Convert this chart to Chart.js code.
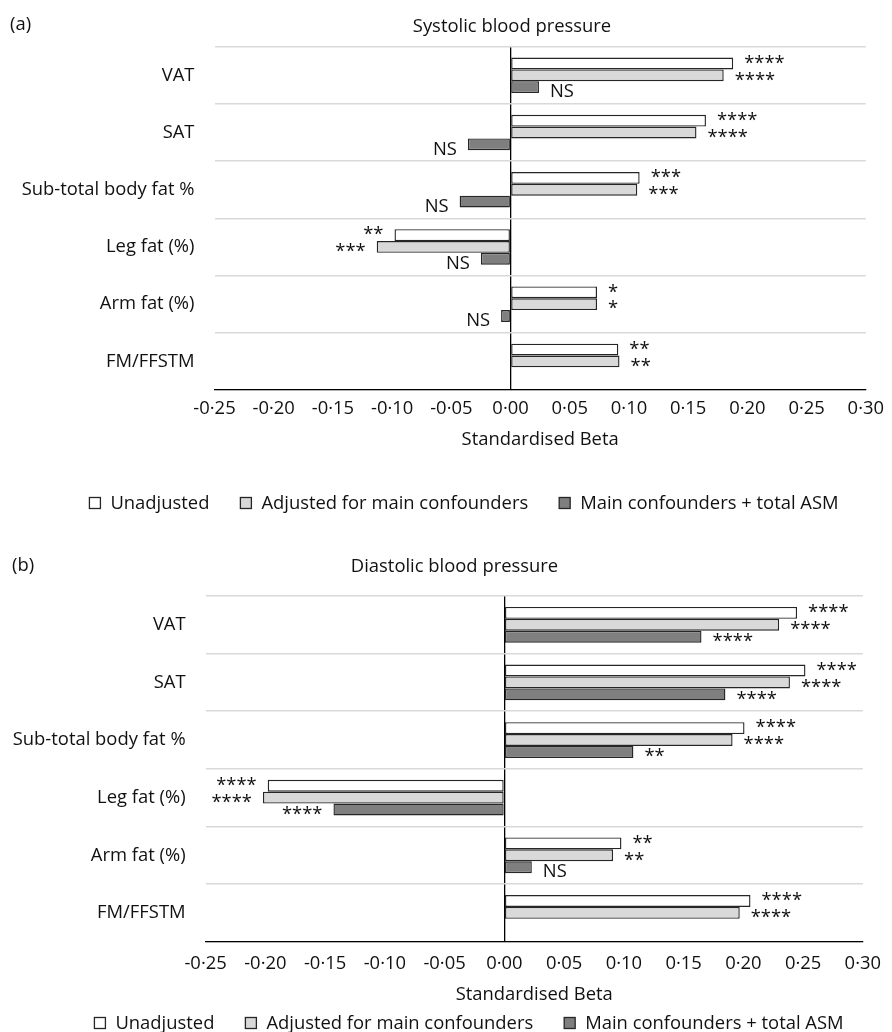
<!DOCTYPE html>
<html>
<head>
<meta charset="utf-8">
<title>Body fat and blood pressure</title>
<script src="https://cdn.jsdelivr.net/npm/chart.js@4.4.1/dist/chart.umd.min.js"></script>
<style>
  html, body { margin: 0; padding: 0; background: #fff; }
  .panel { position: relative; width: 892px; }
  #panelA { height: 540px; }
  #panelB { height: 492px; }
</style>
</head>
<body>
<div class="panel" id="panelA"><canvas id="chartA"></canvas></div>
<div class="panel" id="panelB"><canvas id="chartB"></canvas></div>
<script>
// ---- data ----
const categories = ["VAT", "SAT", "Sub-total body fat %", "Leg fat (%)", "Arm fat (%)", "FM/FFSTM"];
const seriesNames = ["Unadjusted", "Adjusted for main confounders", "Main confounders + total ASM"];
const xTickValues = [-0.25, -0.20, -0.15, -0.10, -0.05, 0.00, 0.05, 0.10, 0.15, 0.20, 0.25, 0.30];

const sysUnadjusted = [0.188, 0.165, 0.109, -0.098, 0.073, 0.091];
const sysAdjusted = [0.180, 0.157, 0.107, -0.113, 0.073, 0.092];
const sysAsm = [0.024, -0.036, -0.043, -0.025, -0.008, null];
const sysSigUnadjusted = ["****", "****", "***", "**", "*", "**"];
const sysSigAdjusted = ["****", "****", "***", "***", "*", "**"];
const sysSigAsm = ["NS", "NS", "NS", "NS", "NS", ""];

const diaUnadjusted = [0.245, 0.252, 0.201, -0.198, 0.098, 0.206];
const diaAdjusted = [0.230, 0.239, 0.191, -0.202, 0.091, 0.197];
const diaAsm = [0.165, 0.185, 0.108, -0.143, 0.023, null];
const diaSigUnadjusted = ["****", "****", "****", "****", "**", "****"];
const diaSigAdjusted = ["****", "****", "****", "****", "**", "****"];
const diaSigAsm = ["****", "****", "**", "****", "NS", ""];

// ---- styles ----
const fills = ["#ffffff", "#d9d9d9", "#7f7f7f"];
const edge = "#262626";
const ink = "#111111";
const fontSize = 18.4;
const fontStr = fontSize + "px 'Open Sans', sans-serif";

Chart.defaults.font.family = "'Open Sans', sans-serif";
Chart.defaults.font.size = fontSize;
Chart.defaults.color = ink;

function fmtBeta(v) {
  const n = Math.abs(v) < 1e-9 ? 0 : v;
  return n.toFixed(2).replace(".", "\u00b7");
}

// significance text next to each bar end
const sigLabels = {
  id: "sigLabels",
  afterDatasetsDraw(chart, args, opts) {
    const ctx = chart.ctx;
    ctx.save();
    ctx.font = fontStr;
    ctx.fillStyle = ink;
    ctx.textBaseline = "middle";
    chart.data.datasets.forEach((ds, i) => {
      const meta = chart.getDatasetMeta(i);
      meta.data.forEach((bar, j) => {
        const v = ds.data[j];
        const txt = opts.labels[i][j];
        if (v === null || !txt) return;
        const pos = v >= 0;
        ctx.textAlign = pos ? "left" : "right";
        ctx.fillText(txt, bar.x + (pos ? opts.gap : -opts.gap), bar.y + opts.dy[i]);
      });
    });
    ctx.restore();
  }
};

// panel letter, chart title and legend row
const panelExtras = {
  id: "panelExtras",
  afterDraw(chart, args, opts) {
    const ctx = chart.ctx;
    ctx.save();
    ctx.font = fontStr;
    ctx.fillStyle = ink;
    ctx.textBaseline = "middle";
    ctx.textAlign = "left";
    ctx.fillText(opts.letter, opts.letterX, opts.letterY);
    ctx.textAlign = "center";
    ctx.fillText(opts.title, opts.titleX, opts.titleY);

    ctx.textAlign = "left";
    const box = 11, boxGap = 10, itemGap = 31;
    const widths = seriesNames.map((s) => box + boxGap + ctx.measureText(s).width);
    const total = widths.reduce((a, b) => a + b, 0) + itemGap * (widths.length - 1);
    let x = opts.legendX - total / 2;
    seriesNames.forEach((s, i) => {
      ctx.fillStyle = fills[i];
      ctx.fillRect(x, opts.legendY - box / 2, box, box);
      ctx.strokeStyle = edge;
      ctx.lineWidth = 1.3;
      ctx.strokeRect(x, opts.legendY - box / 2, box, box);
      ctx.fillStyle = ink;
      ctx.fillText(s, x + box + boxGap, opts.legendY + 1);
      x += widths[i] + itemGap;
    });
    ctx.restore();
  }
};

function makeChart(id, p) {
  return new Chart(document.getElementById(id), {
    type: "bar",
    data: {
      labels: categories,
      datasets: p.series.map((vals, i) => ({
        label: seriesNames[i],
        data: vals,
        backgroundColor: fills[i],
        borderColor: edge,
        borderWidth: 1.4,
        borderSkipped: false,
        categoryPercentage: 0.62,
        barPercentage: 1.0,
      })),
    },
    options: {
      indexAxis: "y",
      responsive: true,
      maintainAspectRatio: false,
      animation: false,
      layout: { padding: { left: 0, right: p.padRight, top: p.padTop, bottom: p.padBottom } },
      plugins: {
        legend: { display: false },
        tooltip: { enabled: false },
        title: { display: false },
        sigLabels: { labels: p.sig, gap: 11, dy: [0, 5, 5] },
        panelExtras: {
          letter: p.letter, letterX: p.letterX, letterY: p.letterY,
          title: p.title, titleX: p.titleX, titleY: p.titleY,
          legendX: p.legendX, legendY: p.legendY,
        },
      },
      scales: {
        x: {
          min: -0.25,
          max: 0.30,
          afterBuildTicks: (scale) => { scale.ticks = xTickValues.map((v) => ({ value: v })); },
          afterFit: (scale) => { scale.height = 65; },
          ticks: { autoSkip: false, maxRotation: 0, padding: p.tickPad, callback: (v) => fmtBeta(v) },
          grid: {
            drawTicks: false,
            color: (c) => (c.tick && Math.abs(c.tick.value) < 1e-9 ? "#000000" : "rgba(0,0,0,0)"),
            lineWidth: 1.3,
          },
          border: { display: true, color: "#000000", width: 1.3 },
          title: { display: true, text: "Standardised Beta", font: { size: fontSize, lineHeight: 1.2 }, color: ink, padding: { top: 0, bottom: p.axisTitlePad } },
        },
        y: {
          afterFit: (scale) => { scale.width = p.yWidth; },
          ticks: { padding: 20, autoSkip: false },
          grid: { drawTicks: false, color: "#d9d9d9", lineWidth: 1.5 },
          border: { display: false },
        },
      },
    },
    plugins: [sigLabels, panelExtras],
  });
}

makeChart("chartA", {
  title: "Systolic blood pressure",
  series: [sysUnadjusted, sysAdjusted, sysAsm],
  sig: [sysSigUnadjusted, sysSigAdjusted, sysSigAsm],
  padTop: 46.7, padRight: 23, padBottom: 85, yWidth: 214.5,
  tickPad: 8, axisTitlePad: 4.5,
  letter: "(a)", letterX: 10, letterY: 25,
  title: "Systolic blood pressure", titleX: 512, titleY: 27,
  legendX: 464, legendY: 503,
});

makeChart("chartB", {
  series: [diaUnadjusted, diaAdjusted, diaAsm],
  sig: [diaSigUnadjusted, diaSigAdjusted, diaSigAsm],
  padTop: 56, padRight: 20.3, padBottom: 25.3, yWidth: 205.6,
  tickPad: 11, axisTitlePad: 1.2,
  letter: "(b)", letterX: 12, letterY: 26,
  title: "Diastolic blood pressure", titleX: 454.5, titleY: 27,
  legendX: 469, legendY: 483,
});
</script>
</body>
</html>
